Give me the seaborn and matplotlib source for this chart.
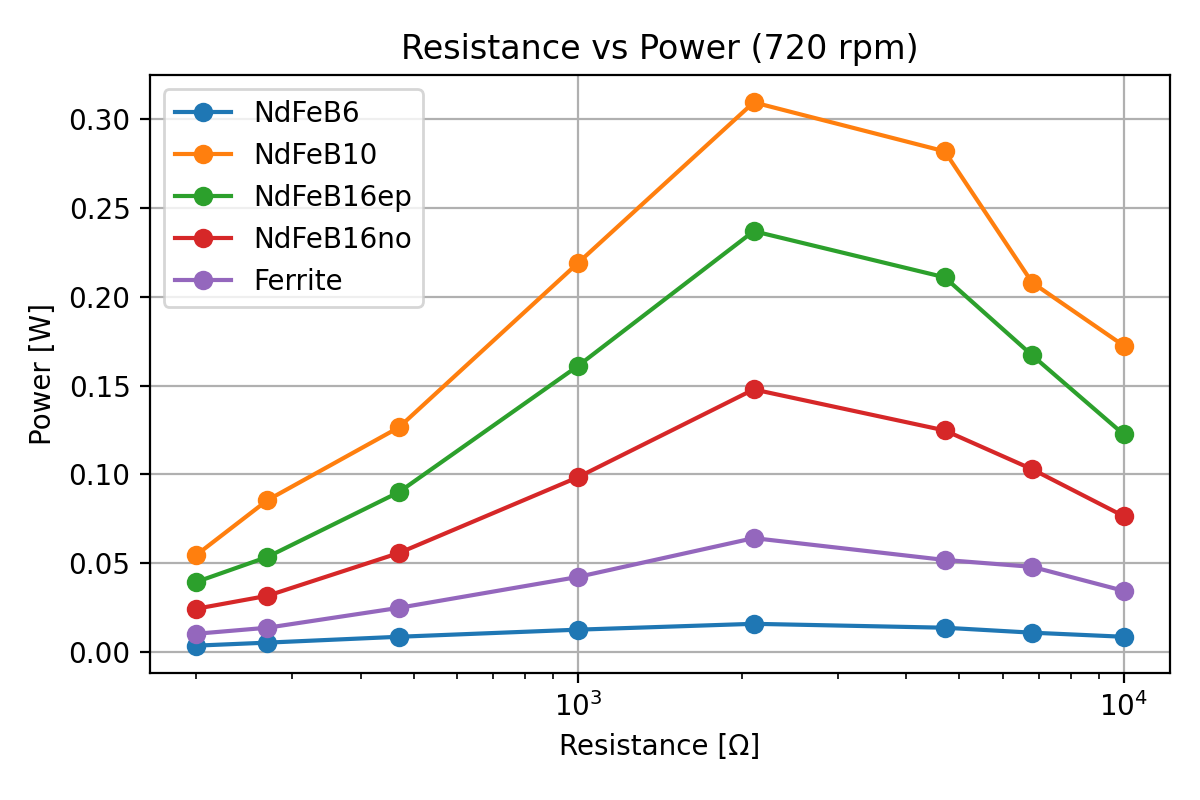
import pandas as pd
import seaborn as sns
import matplotlib.pyplot as plt

# resistances (ohm) and power readings (W)
resistance = [200, 270, 470, 1000, 2100, 4700, 6800, 10000]
magnets = ["NdFeB6", "NdFeB10", "NdFeB16ep", "NdFeB16no", "Ferrite"]
p_ndfeb6 = [0.0034, 0.0051, 0.0084, 0.0124, 0.0157, 0.0135, 0.0107, 0.0084]
p_ndfeb10 = [0.0545, 0.0854, 0.1264, 0.219, 0.3096, 0.282, 0.208, 0.1725]
p_ndfeb16ep = [0.0393, 0.0534, 0.0899, 0.161, 0.237, 0.211, 0.167, 0.1225]
p_ndfeb16no = [0.0242, 0.0315, 0.0556, 0.0983, 0.1478, 0.1247, 0.1028, 0.0764]
p_ferrite = [0.0101, 0.0135, 0.0247, 0.0421, 0.064, 0.0517, 0.0478, 0.0343]

powers = [p_ndfeb6, p_ndfeb10, p_ndfeb16ep, p_ndfeb16no, p_ferrite]
rows = []
for name, vals in zip(magnets, powers):
    for r, p in zip(resistance, vals):
        rows.append({"Resistance": r, "Power": p, "Magnet": name})
df = pd.DataFrame(rows)

fig, ax = plt.subplots(figsize=(6, 4), dpi=200)
sns.lineplot(data=df, x="Resistance", y="Power", hue="Magnet",
             hue_order=magnets, palette="tab10", marker="o",
             markersize=7, markeredgewidth=0, ax=ax)
ax.set_xscale("log")
ax.grid(True)
ax.set_title("Resistance vs Power (720 rpm)")
ax.set_xlabel("Resistance [Ω]")
ax.set_ylabel("Power [W]")
handles, labels = ax.get_legend_handles_labels()
ax.legend(handles, labels, loc="upper left")

fig.subplots_adjust(left=0.125, right=0.975, top=0.906, bottom=0.159)
plt.savefig("out.png", dpi=200)
